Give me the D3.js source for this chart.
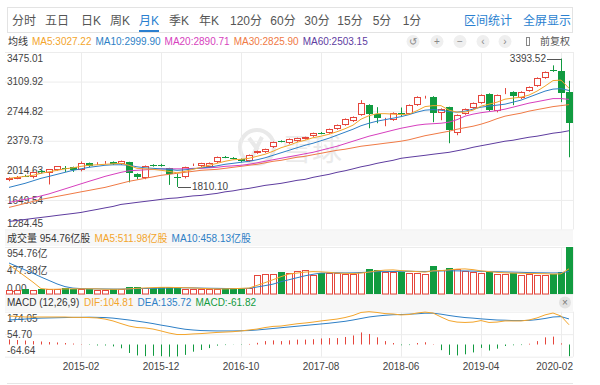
<!DOCTYPE html>
<html>
<head>
<meta charset="utf-8">
<script src="https://cdn.jsdelivr.net/npm/d3@7"></script>
<style>
  body { margin: 0; background: #fff; }
  svg text { font-family: Arial, "Liberation Sans", "Noto Sans CJK SC", sans-serif; }
</style>
</head>
<body>
<div id="chart"></div>
<script>
// monthly K line, 2014-05 .. 2020-03
const months = [
  '2014-05','2014-06','2014-07','2014-08','2014-09','2014-10','2014-11','2014-12',
  '2015-01','2015-02','2015-03','2015-04','2015-05','2015-06','2015-07','2015-08','2015-09','2015-10','2015-11','2015-12',
  '2016-01','2016-02','2016-03','2016-04','2016-05','2016-06','2016-07','2016-08','2016-09','2016-10','2016-11','2016-12',
  '2017-01','2017-02','2017-03','2017-04','2017-05','2017-06','2017-07','2017-08','2017-09','2017-10','2017-11','2017-12',
  '2018-01','2018-02','2018-03','2018-04','2018-05','2018-06','2018-07','2018-08','2018-09','2018-10','2018-11','2018-12',
  '2019-01','2019-02','2019-03','2019-04','2019-05','2019-06','2019-07','2019-08','2019-09','2019-10','2019-11','2019-12',
  '2020-01','2020-02','2020-03'
]

const open = [1893,1918,1950,1930,2012,1980,2018,2040,2052,2015,2100,2090,2105,2112,2090,2112,1965,1918,2080,2080,
  2040,1935,1925,2080,2065,2052,2114,2182,2170,2151,2126,2225,2237,2299,2378,2349,2374,2402,2436,2478,
  2473,2522,2572,2621,2695,2819,2708,2640,2633,2725,2710,2819,2912,2918,2720,2794,2473,2708,2782,2844,
  2955,2745,2965,2980,2906,2992,3054,3153,3252,3240,2980]
const high = [1930,1945,1960,1994,2018,2030,2068,2068,2060,2125,2110,2115,2130,2125,2135,2120,1978,2075,2090,2095,
  2045,1975,2060,2098,2108,2112,2185,2192,2178,2160,2210,2258,2282,2370,2385,2408,2418,2430,2480,2488,
  2530,2580,2655,2680,2881,2830,2794,2662,2730,2790,2828,2928,2935,2930,2780,2800,2705,2778,2852,2952,
  2965,2950,3030,2990,2990,3050,3162,3235,3310,3393.52,3120]
const low = [1880,1905,1932,1915,1985,1840,2010,1995,1995,2002,2055,2080,2095,2080,2080,1866,1903,1905,2060,2060,
  1835,1810.10,1915,2068,2055,2045,2105,2165,2150,2115,2120,2218,2230,2290,2360,2340,2365,2395,2428,2460,
  2465,2515,2565,2612,2688,2534,2596,2559,2625,2680,2700,2810,2900,2609,2633,2349,2448,2700,2775,2835,
  2745,2730,2955,2819,2895,2985,3045,3145,3230,2856,2176]
const close = [1922,1938,1944,1988,1995,2025,2062,2032,2018,2100,2066,2105,2118,2090,2125,1978,1930,2065,2073,2074,
  1960,1928,2052,2090,2100,2105,2176,2176,2163,2126,2200,2250,2275,2362,2372,2400,2411,2423,2473,2470,
  2522,2572,2646,2671,2844,2708,2658,2650,2720,2716,2819,2918,2920,2720,2770,2510,2695,2770,2844,2943,
  2757,2943,2975,2931,2980,3042,3153,3227,3240,2968,2596]

const ma5 = [1916,1928,1940,1953,1978,1996,2015,2033,2046,2064,2077,2083,2089,2095,2101,2077,2039,2033,2027,2015,
  2002,1984,2002,2027,2052,2077,2101,2126,2145,2151,2163,2188,2213,2250,2293,2324,2361,2386,2417,2436,
  2460,2491,2528,2572,2646,2689,2714,2714,2708,2702,2708,2751,2801,2813,2813,2757,2733,2733,2757,2807,
  2831,2856,2893,2906,2918,2943,2992,3054,3122,3128,3027.22]
const ma10 = [1804,1829,1854,1885,1916,1940,1965,1990,2015,2033,2052,2064,2077,2083,2083,2077,2058,2046,2039,2033,
  2027,2015,2021,2033,2046,2052,2070,2089,2101,2114,2126,2145,2169,2200,2231,2262,2293,2324,2349,2380,
  2411,2448,2485,2522,2565,2596,2621,2640,2658,2677,2702,2733,2757,2764,2757,2739,2733,2745,2770,2794,
  2807,2819,2831,2856,2881,2918,2955,2992,3017,3023,2999.90]
const ma20 = [1619,1637,1656,1674,1699,1724,1755,1786,1817,1848,1879,1909,1940,1965,1990,2009,2015,2021,2027,2033,
  2033,2033,2033,2039,2039,2046,2052,2064,2070,2077,2089,2107,2126,2145,2163,2182,2200,2219,2237,2262,
  2287,2312,2343,2374,2405,2436,2460,2485,2510,2534,2553,2572,2584,2590,2596,2609,2640,2683,2708,2726,
  2739,2751,2770,2794,2819,2844,2862,2881,2900,2900,2890.71]
const ma30 = [1557,1581,1606,1631,1656,1674,1693,1711,1730,1749,1767,1786,1804,1829,1854,1879,1897,1916,1934,1953,
  1965,1978,1990,2002,2015,2021,2027,2039,2052,2064,2077,2089,2107,2126,2138,2157,2176,2188,2207,2225,
  2244,2262,2275,2293,2312,2324,2336,2349,2361,2374,2392,2417,2442,2460,2479,2497,2522,2541,2559,2584,
  2615,2652,2683,2702,2720,2745,2764,2782,2801,2813,2825.90]
const ma60 = [1383,1396,1408,1421,1433,1445,1458,1470,1482,1495,1514,1532,1551,1569,1594,1606,1619,1631,1643,1656,
  1668,1674,1687,1699,1705,1718,1730,1749,1761,1779,1792,1810,1829,1841,1854,1872,1891,1903,1928,1947,
  1965,1990,2009,2033,2058,2077,2101,2120,2138,2163,2176,2188,2200,2213,2225,2237,2256,2275,2299,2318,
  2336,2355,2374,2386,2405,2423,2436,2454,2473,2485,2503.15]

// volume, 亿股
const vol = [90,80,95,85,100,110,95,120,105,95,110,90,85,100,105,140,150,120,130,135,
  140,130,110,100,95,100,110,115,120,125,130,386,400,400,453,420,470,488,386,427,
  427,420,400,400,453,501,488,453,440,453,420,420,400,569,488,522,508,470,453,420,
  453,400,400,434,386,400,386,386,406,440,954.76]
const volMa5 = [590,480,360,240,110,95,97,104,105,105,105,104,97,96,97,104,116,123,129,135,
  135,131,127,123,115,107,102,104,108,114,120,175,230,290,352,405,425,445,455,450,
  440,425,420,415,425,445,470,485,490,475,465,455,445,470,475,490,505,510,495,470,
  455,440,430,425,420,418,415,412,405,410,511.98]
const volMa10 = [630,560,490,420,345,275,205,150,120,110,105,104,102,100,100,104,110,112,115,118,
  122,125,126,124,120,117,115,112,110,112,115,142,170,200,250,290,330,370,400,425,
  430,432,428,430,436,445,452,455,457,460,462,458,455,465,468,472,470,468,465,460,
  455,452,448,445,440,435,432,430,428,430,458.13]

// MACD (12,26,9)
const dif = [151,149,146,146,146,146,146,146,144,144,143,141,135,125,111,98,90,88,82,72,
  61,53,53,56,58,61,64,66,68,72,77,82,90,96,98,104,110,114,119,125,
  130,135,143,154,170,174.05,170,164,162,157,159,167,172,167,146,127,119,117,119,127,
  117,119,125,125,125,130,141,157,167,151,104.81]
const dea = [130,133,135,138,140,141,142,143,144,144,145,144,143,140,135,130,124,118,111,103,
  96,88,81,77,74,73,72,72,72,73,74,77,81,85,89,93,97,101,105,109,
  113,118,123,130,138,146,151,155,158,159,161,163,166,166,161,154,148,143,140,136,
  133,130,129,127,127,128,132,138,146,148,135.72]
const macd = [27,24,21,18,16,13,11,8,5,2,-2,-5,-5,-10,-20,-45,-58,-62,-60,-62,
  -64.64,-63,-55,-38,-29,-19,-6,-3,-1,-2,3,9,18,22,18,22,26,26,28,32,
  34,34,40,48,64,56,38,18,8,-4,-3,8,12,2,-30,-55,-58,-52,-42,-18,
  -32,-22,-8,-4,-3,4,18,38,42,6,-61.82]

const priceTicks = [3475.01, 3109.92, 2744.82, 2379.73, 2014.63, 1649.54, 1284.45]
const volTicks = [954.76, 477.38, 0]
const volTickLabels = ['954.76亿', '477.38亿', '0.00']
const macdTicks = [174.05, 54.70, -64.64]
const xTicks = ['2015-02', '2015-12', '2016-10', '2017-08', '2018-06', '2019-04', '2020-02']
const tabs = ['分时', '五日', '日K', '周K', '月K', '季K', '年K', '120分', '60分', '30分', '15分', '5分', '1分']
const activeTab = '月K'

const RED = '#e5463c', GREEN = '#119b40', BLUE = '#2a7fd0', GRID = '#ececec'
const maColors = ['#f3a52c', '#2e7fc6', '#d73fbe', '#f07a45', '#5e3c9f']

const L = 5, R = 573
const main = { top: 52, bottom: 229.5 }
const vpan = { top: 247, bottom: 294 }
const mpan = { top: 311.7, bottom: 356.7 }

const svg = d3.select('#chart').append('svg')
  .attr('width', 600)
  .attr('height', 385)

const x = d3.scaleBand().domain(months).range([L, R])
const cx = i => Math.round(x(months[i]) + x.bandwidth() / 2)
const y = d3.scaleLinear().domain([1284.45, 3475.01]).range([main.bottom, main.top])
const yv = d3.scaleLinear().domain([0, 954.76]).range([vpan.bottom, vpan.top])
const ym = d3.scaleLinear().domain([-64.64, 174.05]).range([mpan.bottom, mpan.top])
const idx = d3.range(months.length)

// ---- tab bar
const tabBar = svg.append('g')
tabBar.append('rect')
  .attr('x', 7.5).attr('y', 7.5).attr('width', 565).attr('height', 25)
  .attr('fill', '#fff').attr('stroke', '#e3e3e3')
const tabX = [24, 57, 91, 120, 149, 179, 209, 246, 283, 317, 350, 382, 412]
tabBar.selectAll('text.tab').data(tabs).enter().append('text')
  .attr('x', (d, i) => tabX[i]).attr('y', 21)
  .attr('text-anchor', 'middle').attr('dominant-baseline', 'central')
  .attr('font-size', 12)
  .attr('fill', d => d === activeTab ? BLUE : '#555')
  .text(d => d)
tabBar.append('rect').attr('x', 139).attr('y', 30).attr('width', 20).attr('height', 2).attr('fill', BLUE)
tabBar.selectAll('text.r').data(['区间统计', '全屏显示']).enter().append('text')
  .attr('x', (d, i) => [488, 547][i]).attr('y', 21)
  .attr('text-anchor', 'middle').attr('dominant-baseline', 'central')
  .attr('font-size', 12).attr('fill', BLUE)
  .text(d => d)

// ---- legend rows (each item at its reference x, pushed right if the previous one runs into it)
function legend(items, xs, yc) {
  let end = 0
  const g = svg.append('g')
  items.forEach((d, i) => {
    const t = g.append('text')
      .attr('x', Math.max(xs[i], end + 4)).attr('y', yc)
      .attr('dominant-baseline', 'central')
      .attr('font-size', 10)
      .attr('fill', d.c)
      .text(d.t)
    end = Math.max(xs[i], end + 4) + t.node().getComputedTextLength()
  })
}
const last = arr => arr[arr.length - 1].toFixed(2)
legend([
  { t: '均线', c: '#333' },
  { t: 'MA5:' + last(ma5), c: maColors[0] },
  { t: 'MA10:' + last(ma10), c: maColors[1] },
  { t: 'MA20:' + last(ma20), c: maColors[2] },
  { t: 'MA30:' + last(ma30), c: maColors[3] },
  { t: 'MA60:' + last(ma60), c: maColors[4] }
], [8, 31, 93, 160, 230, 297], 41.5)

// tool icons
const icons = ['↺', '+', '−', '‹', '›']
const iconX = [413, 437, 460, 483, 505]
const iconG = svg.append('g')
iconG.selectAll('circle').data(icons).enter().append('circle')
  .attr('cx', (d, i) => iconX[i]).attr('cy', 41.5).attr('r', 6.5)
  .attr('fill', '#efefef')
iconG.selectAll('text').data(icons).enter().append('text')
  .attr('x', (d, i) => iconX[i]).attr('y', 41.5)
  .attr('text-anchor', 'middle').attr('dominant-baseline', 'central')
  .attr('font-size', 10).attr('fill', '#888').text(d => d)
iconG.append('rect').attr('x', 526.5).attr('y', 37.5).attr('width', 3).attr('height', 8)
  .attr('fill', 'none').attr('stroke', '#888')
iconG.append('text').attr('x', 540).attr('y', 41.5).attr('dominant-baseline', 'central')
  .attr('font-size', 10).attr('fill', '#555').text('前复权')

// ---- panel bands
svg.append('rect').attr('x', L).attr('y', 231).attr('width', R - L).attr('height', 15).attr('fill', '#f7f7f7')
svg.append('rect').attr('x', L).attr('y', 295).attr('width', R - L).attr('height', 16).attr('fill', '#f7f7f7')

legend([
  { t: '成交量 ' + last(vol) + '亿股', c: '#333' },
  { t: 'MA5:' + last(volMa5) + '亿股', c: maColors[0] },
  { t: 'MA10:' + last(volMa10) + '亿股', c: maColors[1] }
], [7, 93, 168], 238.5)
legend([
  { t: 'MACD (12,26,9)', c: '#333' },
  { t: 'DIF:' + last(dif), c: maColors[0] },
  { t: 'DEA:' + last(dea), c: maColors[1] },
  { t: 'MACD:' + last(macd), c: GREEN }
], [7, 84, 133, 188], 302.5)
svg.append('circle').attr('cx', 565).attr('cy', 302.5).attr('r', 6).attr('fill', '#e2e2e2')
svg.append('text').attr('x', 565).attr('y', 302.5).attr('text-anchor', 'middle')
  .attr('dominant-baseline', 'central').attr('font-size', 10).attr('fill', '#777').text('×')

// ---- watermark
const wm = svg.append('g').attr('fill', 'none').attr('stroke', '#e9e9e9').attr('stroke-width', 4)
wm.append('circle').attr('cx', 257).attr('cy', 147).attr('r', 17)
wm.append('path').attr('d', 'M249,138 L258,150 M262,137 L252,157')
svg.append('text').attr('x', 282).attr('y', 149).attr('dominant-baseline', 'central')
  .attr('font-size', 30).attr('fill', '#ebebeb').text('雪球')

// ---- grids
function grid(scale, ticks, panel) {
  svg.append('g').attr('transform', `translate(${L},0)`)
    .call(d3.axisLeft(scale).tickValues(ticks).tickSize(-(R - L)).tickFormat(''))
    .call(g => g.select('.domain').remove())
    .call(g => g.selectAll('line').attr('stroke', GRID))
  svg.append('g').attr('transform', `translate(0,${panel.bottom})`)
    .call(d3.axisTop(x).tickValues(xTicks).tickSize(panel.bottom - panel.top).tickFormat(''))
    .call(g => g.select('.domain').remove())
    .call(g => g.selectAll('line').attr('stroke', GRID).attr('transform', 'translate(0.5,0)'))
  svg.append('line').attr('x1', R + 0.5).attr('x2', R + 0.5)
    .attr('y1', panel.top).attr('y2', panel.bottom).attr('stroke', GRID)
}
grid(y, priceTicks, main)
grid(yv, volTicks, vpan)
grid(ym, macdTicks, mpan)

// axis labels inside the panels
function labels(scale, ticks, fmt) {
  svg.append('g').attr('transform', `translate(${L},0)`)
    .call(d3.axisRight(scale).tickValues(ticks).tickSize(0).tickPadding(2).tickFormat(fmt))
    .call(g => g.select('.domain').remove())
    .call(g => g.selectAll('text')
      .attr('font-size', 10).attr('fill', '#444').attr('font-family', null)
      .attr('dy', (d, i) => i === 0 ? '0.95em' : i === ticks.length - 1 ? '-0.3em' : '0.32em'))
}
labels(y, priceTicks, d => d.toFixed(2))
labels(yv, volTicks, (d, i) => volTickLabels[i])
labels(ym, macdTicks, d => d.toFixed(2))

svg.append('g').attr('transform', 'translate(0,360)')
  .call(d3.axisBottom(x).tickValues(xTicks).tickSize(0).tickPadding(3))
  .call(g => g.select('.domain').remove())
  .call(g => g.selectAll('text').attr('font-size', 10).attr('fill', '#444').attr('font-family', null))
  .call(g => g.selectAll('.tick:last-child text').attr('text-anchor', 'end').attr('x', 12))

svg.append('line').attr('x1', 7).attr('x2', R).attr('y1', 383.5).attr('y2', 383.5).attr('stroke', '#e6e6e6')

// ---- candles
const up = i => close[i] >= open[i]
const candles = svg.append('g')
candles.selectAll('line').data(idx).enter().append('line')
  .attr('x1', i => cx(i) + 0.5).attr('x2', i => cx(i) + 0.5)
  .attr('y1', i => y(high[i])).attr('y2', i => y(low[i]))
  .attr('stroke', i => up(i) ? RED : GREEN)
candles.selectAll('rect').data(idx).enter().append('rect')
  .attr('x', i => up(i) ? cx(i) - 2.5 : cx(i) - 3)
  .attr('width', i => up(i) ? 6 : 7)
  .attr('y', i => up(i) ? Math.round(y(close[i])) + 0.5 : Math.round(y(open[i])))
  .attr('height', i => {
    const h = Math.round(Math.abs(y(open[i]) - y(close[i])))
    return up(i) ? Math.max(h - 1, 0) : Math.max(h, 1)
  })
  .attr('fill', i => up(i) ? '#fff' : GREEN)
  .attr('stroke', i => up(i) ? RED : 'none')

// MA lines
const maLine = (sc) => d3.line().x((d, i) => cx(i)).y(d => sc(d))
;[ma60, ma30, ma20, ma10, ma5].forEach((s, k) => {
  svg.append('path').datum(s)
    .attr('d', maLine(y))
    .attr('fill', 'none').attr('stroke', maColors[4 - k]).attr('stroke-width', 1)
})

// extreme labels
const iMax = high.indexOf(d3.max(high)), iMin = low.indexOf(d3.min(low))
const ann = svg.append('g').attr('font-size', 10).attr('fill', '#444')
ann.append('line').attr('x1', 547).attr('x2', cx(iMax)).attr('y1', Math.round(y(high[iMax])) + 0.5)
  .attr('y2', Math.round(y(high[iMax])) + 0.5).attr('stroke', '#555')
ann.append('text').attr('x', 546).attr('y', y(high[iMax])).attr('text-anchor', 'end')
  .attr('dominant-baseline', 'central').text(high[iMax].toFixed(2))
ann.append('line').attr('x1', cx(iMin) + 1).attr('x2', 191).attr('y1', Math.round(y(low[iMin])) + 0.5)
  .attr('y2', Math.round(y(low[iMin])) + 0.5).attr('stroke', '#555')
ann.append('text').attr('x', 192).attr('y', y(low[iMin])).attr('dominant-baseline', 'central')
  .text(low[iMin].toFixed(2))

// ---- volume
svg.append('g').selectAll('rect').data(idx).enter().append('rect')
  .attr('x', i => up(i) ? cx(i) - 2.5 : cx(i) - 3)
  .attr('width', i => up(i) ? 6 : 7)
  .attr('y', i => up(i) ? Math.round(yv(vol[i])) + 0.5 : Math.round(yv(vol[i])))
  .attr('height', i => up(i) ? vpan.bottom - Math.round(yv(vol[i])) - 0.5 : vpan.bottom - Math.round(yv(vol[i])))
  .attr('fill', i => up(i) ? '#fff' : GREEN)
  .attr('stroke', i => up(i) ? RED : 'none')
;[volMa10, volMa5].forEach((s, k) => {
  svg.append('path').datum(s).attr('d', maLine(yv))
    .attr('fill', 'none').attr('stroke', maColors[1 - k]).attr('stroke-width', 1)
})

// ---- MACD
svg.append('g').selectAll('line').data(idx).enter().append('line')
  .attr('x1', i => cx(i) + 0.5).attr('x2', i => cx(i) + 0.5)
  .attr('y1', ym(0)).attr('y2', i => ym(macd[i]))
  .attr('stroke', i => macd[i] >= 0 ? RED : GREEN)
;[dea, dif].forEach((s, k) => {
  svg.append('path').datum(s).attr('d', maLine(ym))
    .attr('fill', 'none').attr('stroke', maColors[1 - k]).attr('stroke-width', 1)
})
</script>
</body>
</html>
